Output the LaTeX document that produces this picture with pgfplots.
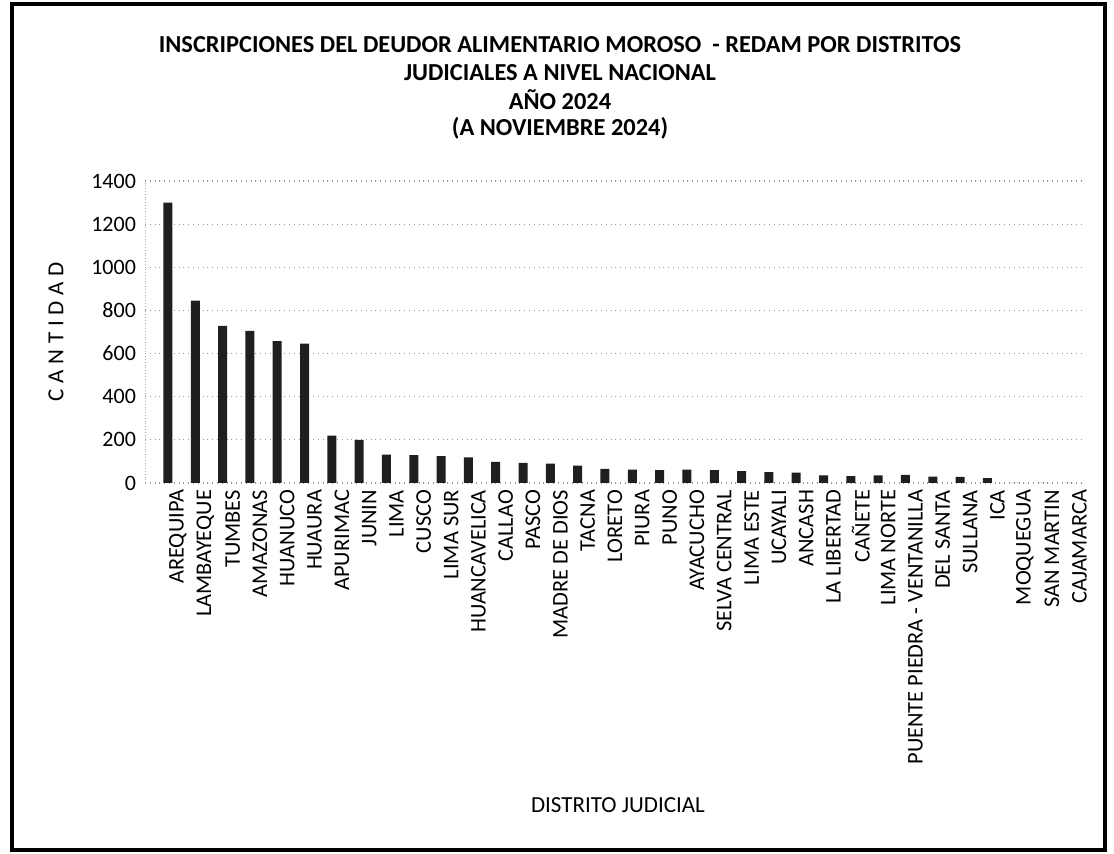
\documentclass[border=0pt]{standalone}
\usepackage{pgfplots}
\pgfplotsset{compat=1.18}
\usepackage{fontspec}
\setmainfont{Carlito}
\begin{document}
\begin{tikzpicture}[x=0.5pt,y=0.5pt]
\useasboundingbox (0,0) rectangle (1114,854);
\draw[line width=1.6pt] (12,4) rectangle (1105,850);
% titles
\node[font=\fontsize{12.2}{14}\selectfont\bfseries] at (560,854-45) {INSCRIPCIONES DEL DEUDOR ALIMENTARIO MOROSO \ - REDAM POR DISTRITOS};
\node[font=\fontsize{12.2}{14}\selectfont\bfseries] at (560,854-73) {JUDICIALES A NIVEL NACIONAL};
\node[font=\fontsize{12.2}{14}\selectfont\bfseries] at (560,854-100) {AÑO 2024};
\node[font=\fontsize{12.2}{14}\selectfont\bfseries] at (560,854-128) {(A NOVIEMBRE 2024)};
\node[font=\fontsize{11.5}{13}\selectfont\addfontfeature{LetterSpace=25}, rotate=90] at (56,854-332) {CANTIDAD};
\node[font=\fontsize{11.5}{13}\selectfont] at (618,854-805) {DISTRITO JUDICIAL};
\begin{axis}[
  at={(72.5pt,185.5pt)}, anchor=south west,
  scale only axis, width=469pt, height=151pt,
  xmin=-0.84, xmax=33.5, ymin=0, ymax=1400,
  ytick={0,200,...,1400},
  xtick={0,...,33},
  xticklabels={AREQUIPA,LAMBAYEQUE,TUMBES,AMAZONAS,HUANUCO,HUAURA,APURIMAC,JUNIN,LIMA,CUSCO,LIMA SUR,HUANCAVELICA,CALLAO,PASCO,MADRE DE DIOS,TACNA,LORETO,PIURA,PUNO,AYACUCHO,SELVA CENTRAL,LIMA ESTE,UCAYALI,ANCASH,LA LIBERTAD,CAÑETE,LIMA NORTE,PUENTE PIEDRA - VENTANILLA,DEL SANTA,SULLANA,ICA,MOQUEGUA,SAN MARTIN,CAJAMARCA},
  x tick label style={rotate=90, anchor=east, font=\fontsize{11.2}{12}\selectfont, yshift=-5pt},
  y tick label style={font=\fontsize{11}{12}\selectfont, xshift=-1pt},
  /pgf/number format/assume math mode=true,
  /pgf/number format/1000 sep={},
  major tick length=0pt,
  axis x line*=bottom,
  x axis line style={draw=none},
  axis y line*=left,
  y axis line style={densely dotted, gray!70},
  ymajorgrids, grid style={dotted, gray!80, line width=0.6pt},
  ybar, bar width=4.5pt,
  clip=false,
]
\addplot[fill=black!88, draw=none] coordinates {
(0,1300) (1,845) (2,728) (3,705) (4,658) (5,646) (6,220) (7,200) (8,132) (9,129)
(10,124) (11,119) (12,98) (13,93) (14,90) (15,80) (16,65) (17,62) (18,60) (19,62)
(20,60) (21,55) (22,50) (23,48) (24,35) (25,32) (26,35) (27,38) (28,30) (29,28)
(30,22) (31,0) (32,0) (33,0)
};
\end{axis}
\end{tikzpicture}
\end{document}
